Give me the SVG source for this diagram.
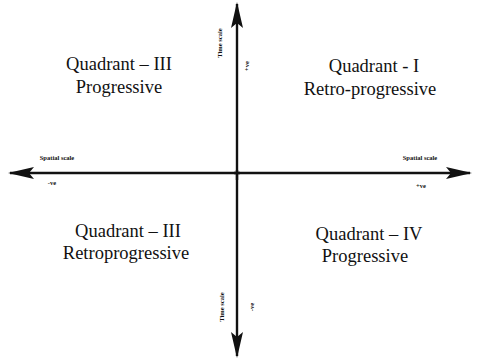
<svg xmlns="http://www.w3.org/2000/svg" width="479" height="360" viewBox="0 0 479 360">
<style>
.q{font-family:'Liberation Serif','DejaVu Serif',serif;font-size:18.5px;fill:#111;text-anchor:middle}
.s{font-family:'Liberation Serif','DejaVu Serif',serif;font-size:6.5px;font-weight:bold;fill:#111;text-anchor:middle}
.ax{stroke:#111;stroke-width:2.4;fill:none}
</style>
<defs>
<marker id="ah" viewBox="0 0 26 12" refX="24" refY="6" markerWidth="26" markerHeight="12" markerUnits="userSpaceOnUse" orient="auto">
<path d="M26,6 L0,0 L5,6 L0,12 Z" fill="#111"/>
</marker>
</defs>
<rect width="479" height="360" fill="#fff"/>
<g id="connectors">
<line class="ax" x1="237" y1="180" x2="237" y2="4" marker-end="url(#ah)"/>
<line class="ax" x1="237" y1="170" x2="237" y2="356" marker-end="url(#ah)"/>
<line class="ax" x1="240" y1="173" x2="10" y2="173" marker-end="url(#ah)"/>
<line class="ax" x1="234" y1="173" x2="470" y2="173" marker-end="url(#ah)"/>
</g>
<g id="q2">
<text class="q" x="119" y="70">Quadrant – III</text>
<text class="q" x="119" y="93">Progressive</text>
</g>
<g id="q1">
<text class="q" x="374" y="72">Quadrant - I</text>
<text class="q" x="370" y="95">Retro-progressive</text>
</g>
<g id="q3">
<text class="q" x="128" y="237">Quadrant – III</text>
<text class="q" x="126" y="259">Retroprogressive</text>
</g>
<g id="q4">
<text class="q" x="369" y="240">Quadrant – IV</text>
<text class="q" x="365" y="262">Progressive</text>
</g>
<g id="labels">
<text class="s" x="57" y="160">Spatial scale</text>
<text class="s" x="52" y="185">-ve</text>
<text class="s" x="420" y="160">Spatial scale</text>
<text class="s" x="421" y="188">+ve</text>
<text class="s" transform="translate(222,43) rotate(-90)">Time scale</text>
<text class="s" transform="translate(249,66) rotate(-90)">+ve</text>
<text class="s" transform="translate(224,307) rotate(-90)">Time scale</text>
<text class="s" transform="translate(254,307) rotate(-90)">-ve</text>
</g>
</svg>
